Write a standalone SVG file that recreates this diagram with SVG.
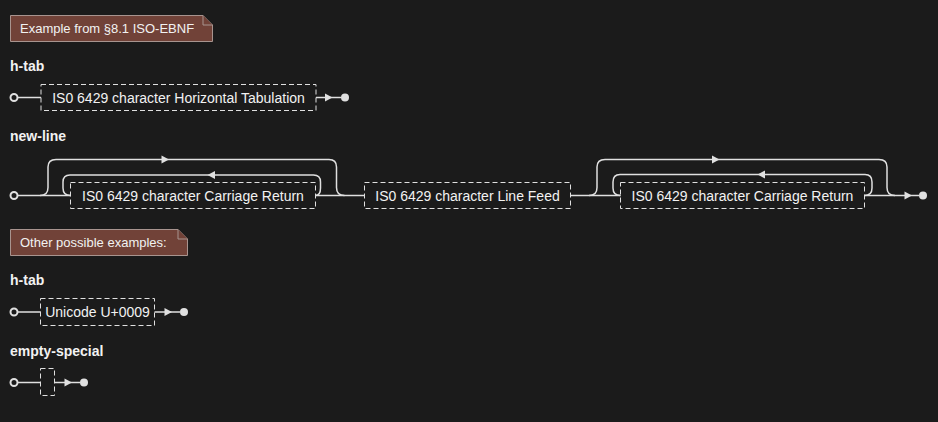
<svg xmlns="http://www.w3.org/2000/svg" width="938" height="422" viewBox="0 0 938 422">
<style>
.bg{fill:#1b1b1b}
.note{fill:#714238;stroke:#a8948f;stroke-width:1}
.ntxt{font-family:"Liberation Sans",Arial,sans-serif;font-size:13px;fill:#f2f2f2}
.title{font-family:"Liberation Sans",Arial,sans-serif;font-size:14px;font-weight:bold;fill:#f2f2f2}
.box{fill:none;stroke:#e0e0e0;stroke-width:1;stroke-dasharray:5 3}
.btxt{font-family:"Liberation Sans",Arial,sans-serif;font-size:14px;fill:#f2f2f2;text-anchor:middle}
.rail{fill:none;stroke:#e0e0e0;stroke-width:1.5}
.start{fill:#1b1b1b;stroke:#e0e0e0;stroke-width:2}
.end{fill:#e0e0e0}
.arr{fill:#e0e0e0}
</style>
<rect class="bg" x="0" y="0" width="938" height="422"/>

<g id="note1">
<path class="note" d="M10.5,15.5 L203,15.5 L212.5,25 L212.5,41.5 L10.5,41.5 Z"/>
<path class="note" d="M203,15.5 L203,25 L212.5,25" fill="none"/>
<text class="ntxt" x="20" y="33">Example from §8.1 ISO-EBNF</text>
</g>

<g id="title-htab1"><text class="title" x="10" y="71">h-tab</text></g>
<g id="htab1-start"><circle class="start" cx="14" cy="97.5" r="3.5"/></g>
<g id="htab1-box">
<rect class="box" x="41" y="84.5" width="275" height="26"/>
<text class="btxt" x="178.5" y="102.5">IS0 6429 character Horizontal Tabulation</text>
</g>
<g id="htab1-end"><circle class="end" cx="345" cy="97.5" r="4"/></g>

<g id="title-newline"><text class="title" x="10" y="141">new-line</text></g>
<g id="nl-start"><circle class="start" cx="14" cy="195.5" r="3.5"/></g>
<g id="nl-cr1">
<rect class="box" x="70.5" y="182.5" width="245" height="26"/>
<text class="btxt" x="193" y="200.5">IS0 6429 character Carriage Return</text>
</g>
<g id="nl-lf">
<rect class="box" x="364.5" y="182.5" width="206" height="26"/>
<text class="btxt" x="467.5" y="200.5">IS0 6429 character Line Feed</text>
</g>
<g id="nl-cr2">
<rect class="box" x="620.5" y="182.5" width="244" height="26"/>
<text class="btxt" x="742.5" y="200.5">IS0 6429 character Carriage Return</text>
</g>
<g id="nl-end"><circle class="end" cx="923" cy="195.5" r="4"/></g>

<g id="note2">
<path class="note" d="M10.5,229.5 L178,229.5 L187.5,239 L187.5,255.5 L10.5,255.5 Z"/>
<path class="note" d="M178,229.5 L178,239 L187.5,239" fill="none"/>
<text class="ntxt" x="20" y="247">Other possible examples:</text>
</g>

<g id="title-htab2"><text class="title" x="10" y="285">h-tab</text></g>
<g id="htab2-start"><circle class="start" cx="14" cy="312" r="3.5"/></g>
<g id="htab2-box">
<rect class="box" x="40.5" y="298.5" width="114" height="27"/>
<text class="btxt" x="97.5" y="317">Unicode U+0009</text>
</g>
<g id="htab2-end"><circle class="end" cx="184" cy="312" r="4"/></g>

<g id="title-empty"><text class="title" x="10" y="356">empty-special</text></g>
<g id="empty-start"><circle class="start" cx="14" cy="382.5" r="3.5"/></g>
<g id="empty-box"><rect class="box" x="40.5" y="368.5" width="14" height="27"/></g>
<g id="empty-end"><circle class="end" cx="84" cy="382.5" r="4"/></g>

<g id="connectors">
<path class="rail" d="M18,97.5 H41 M316,97.5 H341"/>
<path class="arr" d="M325,93.5 L332.5,97.5 L325,101.5 Z"/>
<path class="rail" d="M18,195.5 H70.5 M315.5,195.5 H364.5 M570.5,195.5 H620.5 M864.5,195.5 H919"/>
<path class="rail" d="M40,195.5 Q48,195.5 48,187.5 V167 Q48,159.5 56,159.5 H329 Q336.5,159.5 336.5,167 V187.5 Q336.5,195.5 344.5,195.5"/>
<path class="rail" d="M315.5,195.5 Q320.5,195.5 320.5,188 V182 Q320.5,175 313.5,175 H70 Q63,175 63,182 V188 Q63,195.5 70.5,195.5"/>
<path class="arr" d="M161.5,155.5 L169,159.5 L161.5,163.5 Z"/>
<path class="arr" d="M215,171 L207.5,175 L215,179 Z"/>
<path class="rail" d="M589,195.5 Q597,195.5 597,187.5 V167 Q597,159.5 605,159.5 H879 Q887,159.5 887,167 V187.5 Q887,195.5 895,195.5"/>
<path class="rail" d="M864.5,195.5 Q872,195.5 872,188 V182 Q872,174.5 865,174.5 H620 Q613,174.5 613,182 V188 Q613,195.5 620.5,195.5"/>
<path class="arr" d="M712,155.5 L719.5,159.5 L712,163.5 Z"/>
<path class="arr" d="M765,170.5 L757.5,174.5 L765,178.5 Z"/>
<path class="arr" d="M904.5,191.5 L912,195.5 L904.5,199.5 Z"/>
<path class="rail" d="M18,312 H40.5 M154.5,312 H180"/>
<path class="arr" d="M164.5,308 L172,312 L164.5,316 Z"/>
<path class="rail" d="M18,382.5 H40.5 M54.5,382.5 H80"/>
<path class="arr" d="M64.5,378.5 L72,382.5 L64.5,386.5 Z"/>
</g>
</svg>
